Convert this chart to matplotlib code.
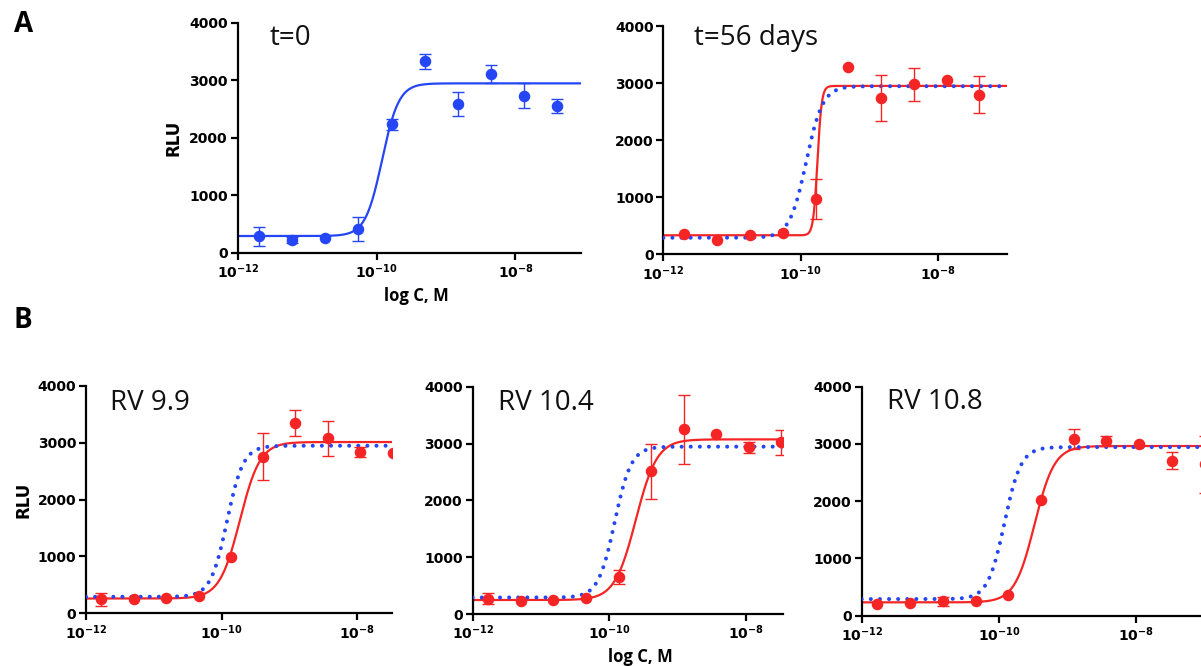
import numpy as np
import matplotlib
matplotlib.use("Agg")
import matplotlib.pyplot as plt
from matplotlib.ticker import FixedLocator, FuncFormatter, NullLocator

plt.rcParams["font.family"] = ["DejaVu Sans"]
plt.rcParams["mathtext.fontset"] = "dejavusans"
plt.rcParams["axes.unicode_minus"] = False

# ---------------- data ----------------
# concentrations (M), 3-fold dilution series
conc_a = [2.03e-12, 6.10e-12, 1.83e-11, 5.49e-11, 1.65e-10,
          4.94e-10, 1.48e-9, 4.44e-9, 1.33e-8, 4.0e-8]
conc_b = [1.69e-12, 5.08e-12, 1.52e-11, 4.57e-11, 1.37e-10,
          4.12e-10, 1.23e-9, 3.70e-9, 1.11e-8, 3.33e-8, 1.0e-7]

# panel A
t0_rlu = [290, 220, 250, 406, 2232, 3328, 2591, 3113, 2730, 2557]
t0_err = [165, 55, 0, 210, 95, 130, 210, 155, 215, 120]
t56_rlu = [350, 245, 345, 380, 963, 3282, 2739, 2978, 3054, 2797]
t56_err = [0, 0, 0, 0, 350, 0, 400, 290, 0, 327]

# panel B
rv99_rlu = [246, 258, 275, 310, 990, 2753, 3338, 3075, 2835, 2811]
rv99_err = [115, 0, 0, 0, 0, 410, 230, 313, 95, 0]
rv104_rlu = [270, 223, 252, 282, 651, 2510, 3249, 3167, 2933, 3026]
rv104_err = [95, 0, 0, 0, 130, 480, 610, 0, 95, 220]
rv108_rlu = [198, 227, 250, 262, 361, 2020, 3086, 3051, 2999, 2707, 2643]
rv108_err = [0, 0, 75, 0, 0, 0, 180, 90, 0, 145, 500]

# four-parameter logistic fits: bottom, top, logEC50, hill slope
fit_t0 = [290, 2945, -9.92, 3.6]
fit_t56 = [333, 2950, -9.755, 14.0]
fit_rv99 = [260, 3010, -9.73, 2.9]
fit_rv104 = [246, 3073, -9.61, 2.8]
fit_rv108 = [233, 2964, -9.48, 3.0]

y_ticks = [0, 1000, 2000, 3000, 4000]
x_ticks = [1e-12, 1e-10, 1e-8]

BLUE = "#2446F5"
RED = "#F52525"

W, H = 1201, 666
fig = plt.figure(figsize=(W / 100, H / 100), dpi=100)


def add_axes(left, right, top, bottom):
    return fig.add_axes([left / W, 1 - bottom / H, (right - left) / W, (bottom - top) / H])


def logistic(x, p):
    bottom, top, logec50, hill = p
    return bottom + (top - bottom) / (1 + 10 ** ((logec50 - np.log10(x)) * hill))


def style(ax, xmax_log):
    ax.set_xscale("log")
    ax.set_xlim(1e-12, 10 ** xmax_log)
    ax.set_ylim(0, 4000)
    for s in ("top", "right"):
        ax.spines[s].set_visible(False)
    for s in ("left", "bottom"):
        ax.spines[s].set_linewidth(1.6)
    ax.xaxis.set_major_locator(FixedLocator(x_ticks))
    ax.xaxis.set_minor_locator(NullLocator())
    ax.xaxis.set_major_formatter(
        FuncFormatter(lambda v, _: r"$\mathbf{10^{%d}}$" % round(np.log10(v))))
    ax.yaxis.set_major_locator(FixedLocator(y_ticks))
    ax.yaxis.set_major_formatter(FuncFormatter(lambda v, _: "%d" % v))
    ax.tick_params(direction="out", length=5, width=1.6, labelsize=10, pad=2)
    for lab in ax.get_yticklabels():
        lab.set_fontweight("bold")


def curve(ax, p, xmax_log, color, dotted=False, z=2):
    xs = np.logspace(-12, xmax_log, 500)
    if dotted:
        ax.plot(xs, logistic(xs, p), color=color, lw=2.9,
                linestyle=(0, (0.01, 2.25)), dash_capstyle="round", zorder=z)
    else:
        ax.plot(xs, logistic(xs, p), color=color, lw=1.6, zorder=z)


def points(ax, conc, rlu, err, color):
    conc = np.asarray(conc[:len(rlu)])
    rlu = np.asarray(rlu, dtype=float)
    err = np.asarray(err, dtype=float)
    m = err > 0
    ax.errorbar(conc[m], rlu[m], yerr=err[m], fmt="none", ecolor=color,
                elinewidth=1.0, capsize=4, capthick=1.0, zorder=4)
    ax.plot(conc, rlu, "o", color=color, ms=7.3, mec=color, zorder=5)


# ---- A: t = 0 ----
ax1 = add_axes(237.7, 580.7, 22.7, 252.7)
style(ax1, -7.06)
curve(ax1, fit_t0, -7.06, BLUE)
points(ax1, conc_a, t0_rlu, t0_err, BLUE)

# ---- A: t = 56 days ----
ax2 = add_axes(663.3, 1006.7, 26, 254.3)
style(ax2, -7.0)
curve(ax2, fit_t56, -7.0, RED)
curve(ax2, fit_t0, -7.0, BLUE, dotted=True, z=3)
points(ax2, conc_a, t56_rlu, t56_err, RED)

# ---- B panels ----
panels_b = [
    ((86, 391.7, 385.7, 613.3), -7.49, rv99_rlu, rv99_err, fit_rv99),
    ((472.7, 783.3, 386.7, 614), -7.45, rv104_rlu, rv104_err, fit_rv104),
    ((861.7, 1204.7, 386.7, 615.7), -7.0, rv108_rlu, rv108_err, fit_rv108),
]
for box, xmax_log, rlu, err, fit in panels_b:
    ax = add_axes(*box)
    style(ax, xmax_log)
    curve(ax, fit, xmax_log, RED)
    curve(ax, fit_t0, xmax_log, BLUE, dotted=True, z=3)
    points(ax, conc_b, rlu, err, RED)


def ftext(x, y, s, **kw):
    fig.text(x / W, 1 - y / H, s, **kw)


# panel letters
ftext(14, 32, "A", fontsize=20, fontweight="bold",
      family=["Liberation Sans Narrow", "Open Sans"], va="baseline")
ftext(14, 328, "B", fontsize=20, fontweight="bold",
      family=["Liberation Sans Narrow", "Open Sans"], va="baseline")

# condition labels
for x, y, s in [(269.3, 45, "t=0"), (694.3, 45, "t=56 days"),
                (110, 410, "RV 9.9"), (498.3, 410, "RV 10.4"),
                (886.7, 409.3, "RV 10.8")]:
    ftext(x, y, s, fontsize=20, family=["Open Sans", "DejaVu Sans"],
          color="#111111", va="baseline", ha="left")

# axis titles
ftext(173.7, 138, "RLU", fontsize=12, fontweight="bold", rotation=90,
      ha="center", va="center")
ftext(24, 500, "RLU", fontsize=12, fontweight="bold", rotation=90,
      ha="center", va="center")
ftext(416, 296, "log C, M", fontsize=12, fontweight="bold",
      family=["Open Sans", "DejaVu Sans"], ha="center", va="center")
ftext(640, 657, "log C, M", fontsize=12, fontweight="bold",
      family=["Open Sans", "DejaVu Sans"], ha="center", va="center")

fig.savefig("out.png", dpi=100)
